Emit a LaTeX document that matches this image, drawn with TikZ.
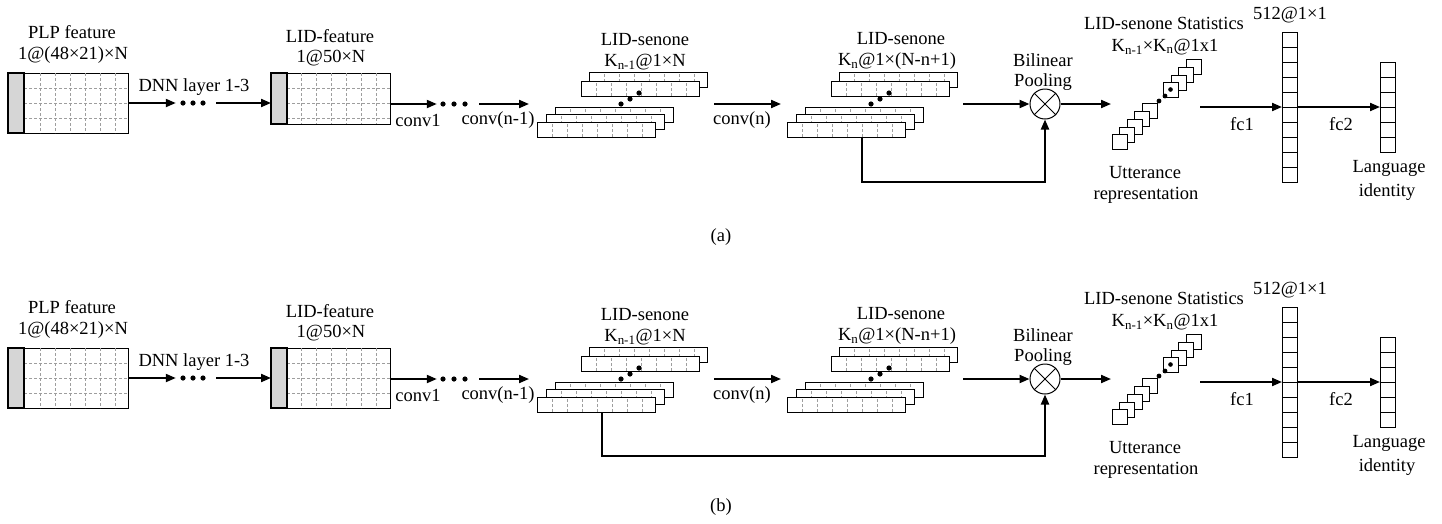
\documentclass[tikz,border=0pt]{standalone}
\usepackage{fontspec}
\setmainfont{Liberation Serif}
\usetikzlibrary{arrows.meta,calc}

\tikzset{
 box/.style={draw, line width=1pt, inner sep=0pt, outer sep=0pt, anchor=north west, fill=white},
 bar/.style={draw, line width=2.6pt, fill=black!16, inner sep=0pt, outer sep=0pt, anchor=north west},
 gridln/.style={draw=black!38, line width=0.6pt, dash pattern=on 3pt off 2pt},
 senrect/.style={box, minimum width=118pt, minimum height=15pt,
   path picture={\foreach \i in {1,...,7} \draw[gridln] ([xshift=\i*15pt]path picture bounding box.south west) -- ([xshift=\i*15pt]path picture bounding box.north west);}},
 flow/.style={line width=2pt, -{Triangle[length=10pt,width=8pt]}},
 lbl/.style={font=\fontsize{18.5}{22}\selectfont, inner sep=0pt},
 cell/.style={draw, line width=1pt, minimum size=15pt, inner sep=0pt, outer sep=0pt, fill=white, anchor=north west},
 dotsnode/.style={inner sep=0pt, minimum width=26pt, minimum height=6pt},
}

\newcommand\panelbody[2]{%
 % PLP feature
 \node[box, minimum width=120pt, minimum height=60pt] (#1plp) at (8,73) {};
 \foreach \xx in {40,55,70,85,100,115} \draw[gridln] (\xx,73) -- (\xx,133);
 \foreach \yy in {88,103,118} \draw[gridln] (24,\yy) -- (128,\yy);
 \node[bar, minimum width=16pt, minimum height=60pt] (#1plpbar) at (8,73) {};
 \node[lbl] (#1plpt) at (72,32) {PLP feature};
 \node[lbl] (#1plpd) at (73,55) {1@(48×21)×N};
 % dots 1
 \node[dotsnode] (#1dd1) at (193,103) {};
 \foreach \xx in {183,193,203} \fill (\xx,103) circle (2.6pt);
 \draw[flow] (#1plp.east) -- ([xshift=-4pt]#1dd1.west);
 \node[lbl] (#1dnn) at (194,87) {DNN layer 1-3};
 % LID feature
 \node[box, minimum width=119pt, minimum height=#2pt] (#1lid) at (271,73) {};
 \foreach \xx in {301,316,331,346,361,376} \draw[gridln] (\xx,73) -- (\xx,73+#2);
 \foreach \yy in {88,103,118} \draw[gridln] (287,\yy) -- (390,\yy);
 \node[bar, minimum width=16pt, minimum height=#2pt] (#1lidbar) at (271,73) {};
 \draw[flow] ([xshift=10pt]#1dd1.east) -- (#1lidbar.west |- #1dd1);
 \node[lbl] (#1lidt) at (330,36) {LID-feature};
 \node[lbl] (#1lidd) at (331,58) {1@50×N};
 % dots 2
 \node[dotsnode] (#1dd2) at (454,104) {};
 \foreach \xx in {443,454,465} \fill (\xx,104) circle (2.6pt);
 \draw[flow] (#1lid.east |- #1dd2) -- ([xshift=-4pt]#1dd2.west);
 \coordinate (#1s1in) at (529,104);
 \draw[flow] ([xshift=12pt]#1dd2.east) -- (#1s1in);
 \node[lbl] (#1cv1) at (418,120) {conv1};
 \node[lbl] (#1cvn1) at (498,120) {conv(n-1)};
 % senone stack 1
 \node[senrect] (#1S1A) at (589,72) {};
 \node[senrect] (#1S1B) at (581,81) {};
 \foreach \xx/\yy in {639/93,630/99,621/104} \fill (\xx,\yy) circle (2.6pt);
 \node[senrect] (#1S1C) at (555,107) {};
 \node[senrect] (#1S1D) at (546,114) {};
 \node[senrect] (#1S1E) at (537,122) {};
 \node[lbl] (#1s1t) at (645,40) {LID-senone};
 \node[lbl] (#1s1d) at (645,62) {K\textsubscript{n-1}@1×N};
 % conv(n)
 \coordinate (#1s1out) at (714,104);
 \coordinate (#1s2in) at (781,104);
 \draw[flow] (#1s1out) -- (#1s2in);
 \node[lbl] (#1cvn) at (742,120) {conv(n)};
 % senone stack 2
 \node[senrect] (#1S2A) at (839,72) {};
 \node[senrect] (#1S2B) at (831,81) {};
 \foreach \xx/\yy in {889/93,880/99,871/104} \fill (\xx,\yy) circle (2.6pt);
 \node[senrect] (#1S2C) at (805,107) {};
 \node[senrect] (#1S2D) at (796,114) {};
 \node[senrect] (#1S2E) at (787,122) {};
 \node[lbl] (#1s2t) at (901,39) {LID-senone};
 \node[lbl] (#1s2d) at (897,61) {K\textsubscript{n}@1×(N-n+1)};
 % bilinear pooling
 \node[circle, draw, line width=1pt, minimum size=30pt, inner sep=0pt] (#1pool) at (1045,104) {};
 \draw[line width=1pt] (#1pool.north west) -- (#1pool.south east) (#1pool.north east) -- (#1pool.south west);
 \coordinate (#1s2out) at (963,104);
 \draw[flow] (#1s2out) -- (#1pool.west);
 \node[lbl] (#1bil) at (1043,60) {Bilinear};
 \node[lbl] (#1poo) at (1043,82) {Pooling};
 \coordinate (#1statin) at (1111,104);
 \draw[flow] (#1pool.east) -- (#1statin);
 % statistics cubes
 \node[cell] (#1u4) at (1186,59) {};
 \node[cell] (#1u3) at (1178,67) {};
 \node[cell] (#1u2) at (1171,75) {};
 \node[cell] (#1u1) at (1163,82) {};
 \fill (#1u1.center) circle (2.3pt);
 \fill (1159,101) circle (2.4pt);
 \fill (1165,96) circle (2.4pt);
 \node[cell] (#1c5) at (1142,103) {};
 \node[cell] (#1c4) at (1134,111) {};
 \node[cell] (#1c3) at (1127,119) {};
 \node[cell] (#1c2) at (1119,127) {};
 \node[cell] (#1c1) at (1112,134) {};
 \node[lbl] (#1stt) at (1164,23) {LID-senone Statistics};
 \node[lbl] (#1std) at (1165,47) {K\textsubscript{n-1}×K\textsubscript{n}@1x1};
 \node[lbl] (#1utt) at (1145,173) {Utterance};
 \node[lbl] (#1rep) at (1146,195) {representation};
 % fc1 vector
 \node[box, minimum width=15pt, minimum height=150pt] (#1fc1) at (1282,32) {};
 \foreach \k in {1,...,9} \draw[line width=1pt] (1282,{32+15*\k}) -- (1297,{32+15*\k});
 \coordinate (#1statout) at (1200,107);
 \draw[flow] (#1statout) -- (#1fc1.west);
 \node[lbl] (#1fct) at (1290,15) {512@1×1};
 \node[lbl] (#1fc1l) at (1242,124) {fc1};
 % fc2 vector
 \node[box, minimum width=15pt, minimum height=90pt] (#1fc2) at (1380,62) {};
 \foreach \k in {1,...,5} \draw[line width=1pt] (1380,{62+15*\k}) -- (1395,{62+15*\k});
 \draw[flow] (#1fc1.east) -- (#1fc2.west);
 \node[lbl] (#1fc2l) at (1341,124) {fc2};
 \node[lbl] (#1lan) at (1389,168) {Language};
 \node[lbl] (#1ide) at (1387,192) {identity};
}

\begin{document}
\begin{tikzpicture}[x=1pt,y=-1pt]
\useasboundingbox[fill=white] (0,0) rectangle (1442,523);
\panelbody{a}{51}
\begin{scope}[shift={(0,275)}]
\panelbody{b}{60}
\end{scope}
% feedback connectors
\draw[flow] ($(aS2E.south west)+(75,0)$) -- ++(0,45) -| (apool.south);
\draw[flow] ($(bS1E.south west)+(65,0)$) -- ++(0,44) -| (bpool.south);
\node[lbl] (capa) at (721,237) {(a)};
\node[lbl] (capb) at (721,507) {(b)};
\end{tikzpicture}
\end{document}
